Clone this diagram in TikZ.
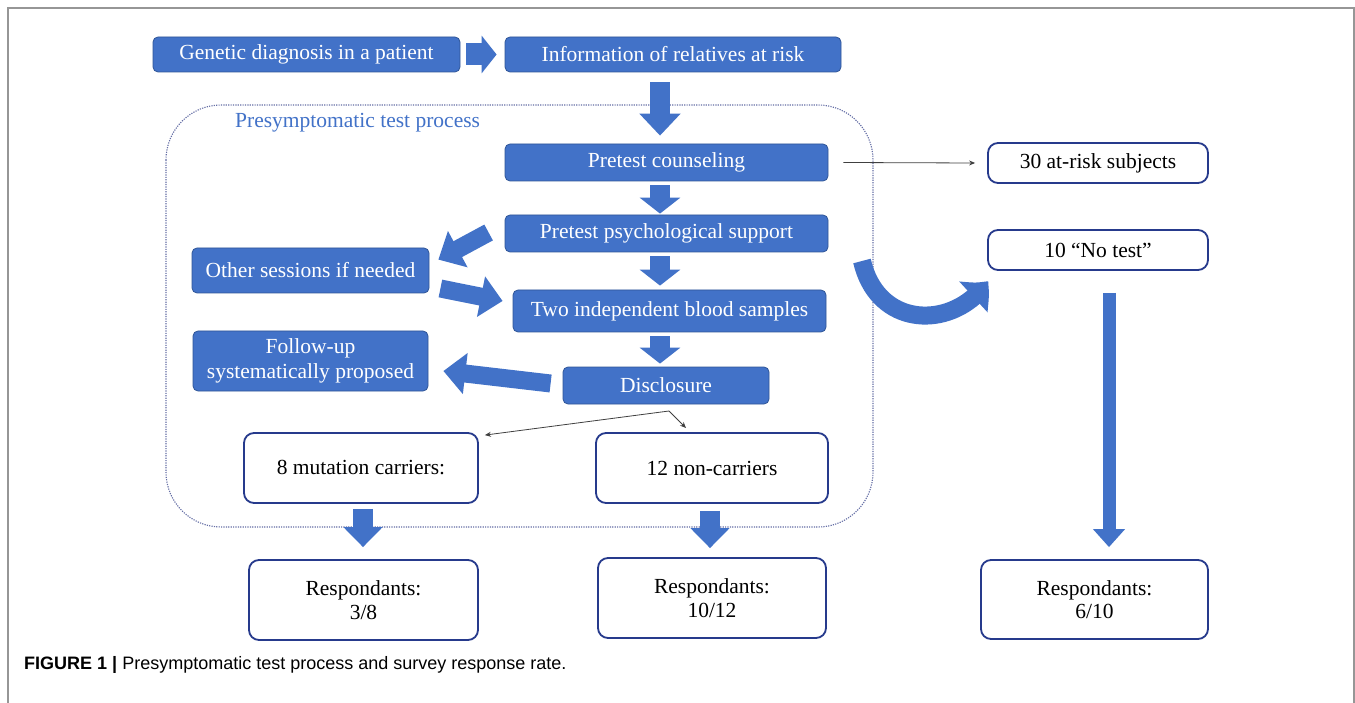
\documentclass[tikz,border=0pt]{standalone}
\usepackage{fontspec}
\setmainfont{Liberation Serif}
\newfontfamily\capfont{Liberation Sans}
\usetikzlibrary{arrows.meta,bending}
\definecolor{boxblue}{RGB}{66,114,200}
\definecolor{boxedge}{RGB}{47,85,151}
\definecolor{navy}{RGB}{38,58,140}
\definecolor{framegray}{RGB}{100,110,165}
\definecolor{outergray}{RGB}{150,150,150}
\tikzset{
  bluebox/.style={rectangle, rounded corners=5pt, fill=boxblue, draw=boxedge, line width=0.8pt,
    text=white, font=\fontsize{21.5}{25}\selectfont, inner sep=0pt, align=center},
  whitebox/.style={rectangle, rounded corners=10pt, fill=white, draw=navy, line width=1.8pt,
    text=black, font=\fontsize{21.5}{23.5}\selectfont, inner sep=0pt, align=center},
  fatarrow/.style={draw=boxblue, line width=20pt, -{Triangle[width=40pt,length=18pt]}},
  sidearrow/.style={draw=boxblue, line width=18pt, -{Triangle[width=40pt,length=22pt]}},
  thinarrow/.style={draw=black!75, line width=0.8pt, -{Stealth[length=6pt,width=5pt]}},
}
\begin{document}
\begin{tikzpicture}[x=1pt,y=-1pt]
\useasboundingbox (0,0) rectangle (1355,703);
\fill[white] (0,0) rectangle (1355,703);
% outer frame
\draw[outergray, line width=1.5pt] (8,703) -- (8,8) -- (1354,8) -- (1354,703);

% process frame
\draw[framegray, line width=1.1pt, dash pattern=on 1.2pt off 1.2pt, rounded corners=55pt] (166,105) rectangle (873,527);
\node[anchor=west, text=boxblue, font=\fontsize{21.5}{24}\selectfont, inner sep=0pt] (ptp) at (235,123) {Presymptomatic test process};

% nodes
\node[bluebox, minimum width=307pt, minimum height=35pt] (gen) at (306.5,54.5) {Genetic diagnosis in a patient};
\node[bluebox, minimum width=336pt, minimum height=35pt] (info) at (673,54.5) {Information of relatives at risk};
\node[bluebox, minimum width=323pt, minimum height=37pt] (pc) at (666.5,162.5) {Pretest counseling};
\node[bluebox, minimum width=323pt, minimum height=37pt] (pps) at (666.5,233.5) {Pretest psychological support};
\node[bluebox, minimum width=237pt, minimum height=45pt] (other) at (310.5,270.5) {Other sessions if needed};
\node[bluebox, minimum width=313pt, minimum height=42pt] (two) at (669.5,311) {Two independent blood samples};
\node[bluebox, minimum width=235pt, minimum height=60pt] (fol) at (310.5,361) {Follow-up\\systematically proposed};
\node[bluebox, minimum width=206pt, minimum height=37pt] (disc) at (666,385.5) {Disclosure};

\node[whitebox, minimum width=234pt, minimum height=70pt] (mc) at (361,468) {8 mutation carriers:};
\node[whitebox, minimum width=232pt, minimum height=70pt] (nc) at (712,468) {12 non-carriers};
\node[whitebox, minimum width=229pt, minimum height=80pt] (r1) at (363.5,600) {Respondants:\\3/8};
\node[whitebox, minimum width=228pt, minimum height=80pt] (r2) at (712,598) {Respondants:\\10/12};
\node[whitebox, minimum width=227pt, minimum height=79pt] (r3) at (1094.5,599.5) {Respondants:\\6/10};
\node[whitebox, minimum width=220pt, minimum height=40pt] (at) at (1098,163) {30 at-risk subjects};
\node[whitebox, minimum width=220pt, minimum height=40pt] (nt) at (1098,250) {10 \textquotedblleft No test\textquotedblright};

% fat arrows
\draw[draw=boxblue, line width=22pt, -{Triangle[width=37pt,length=15pt]}] ([xshift=6pt]gen.east) -- ([xshift=-8pt]info.west);
\draw[fatarrow, -{Triangle[width=40pt,length=22pt]}] ([shift={(-13,10)}]info.south) -- ([shift={(-6.5,-8)}]pc.north);
\draw[fatarrow, -{Triangle[width=40pt,length=16pt]}] ([shift={(-6.5,4)}]pc.south) -- ([shift={(-6.5,-1)}]pps.north);
\draw[fatarrow, -{Triangle[width=40pt,length=16pt]}] ([shift={(-6.5,4)}]pps.south) -- ([shift={(-9.5,-4)}]two.north);
\draw[fatarrow, -{Triangle[width=40pt,length=16pt]}] ([shift={(-9.5,4)}]two.south) -- ([shift={(-6,-3)}]disc.north);
\draw[sidearrow] ([shift={(-16,-1)}]pps.west) -- ([shift={(9,12)}]other.north east);
\draw[sidearrow] ([shift={(11,18)}]other.east) -- ([shift={(-10,-10)}]two.west);
\draw[sidearrow] ([shift={(-12,-2)}]disc.west) -- ([shift={(15,10)}]fol.east);
\draw[fatarrow, -{Triangle[width=38pt,length=20pt]}] ([shift={(2,5)}]mc.south) -- ([shift={(-0.5,-12)}]r1.north);
\draw[fatarrow, -{Triangle[width=38pt,length=20pt]}] ([shift={(-2,7)}]nc.south) -- ([shift={(-2,-9)}]r2.north);
\draw[draw=boxblue, line width=13pt, -{Triangle[width=31pt,length=18pt]}] ([shift={(11,22)}]nt.south) -- ([shift={(14.5,-12)}]r3.north);

% curved arrow
\coordinate (cs) at (862,261);
\coordinate (ce) at (988,281);
\draw[draw=boxblue, line width=18pt, -{Triangle[width=40pt,length=22pt,bend]}] (cs) .. controls (878,330) and (955,330) .. (ce);

% thin arrows
\draw[thinarrow] ([xshift=15pt]pc.east) -- ([shift={(-12,0)}]at.west);
\coordinate (split) at (669,411);
\draw[thinarrow] (split) -- ([shift={(6,3)}]mc.north east);
\draw[thinarrow] (split) -- (686,428);

% caption
\node[anchor=west, inner sep=0pt, font=\capfont\fontsize{18}{21}\selectfont] (cap) at (24,665) {\textbf{FIGURE 1} \textbf{|} Presymptomatic test process and survey response rate.};
\end{tikzpicture}
\end{document}
